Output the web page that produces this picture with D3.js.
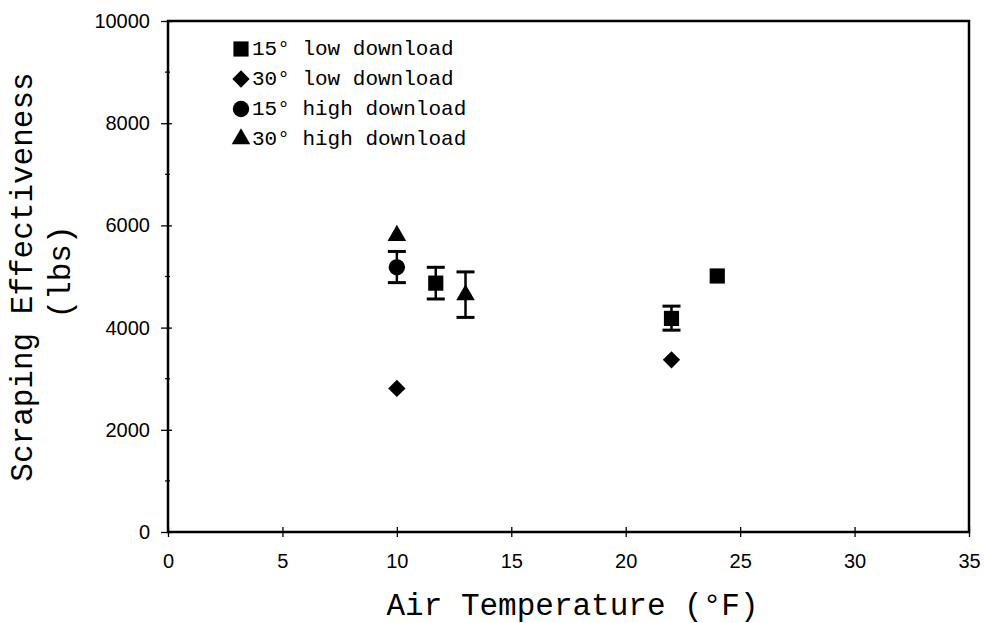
<!DOCTYPE html>
<html><head><meta charset="utf-8">
<script src="https://cdn.jsdelivr.net/npm/d3@7"></script>
<style>
body{margin:0;background:#fff;}
svg{display:block;}
</style></head>
<body>
<svg id="chart" width="985" height="623"></svg>
<script>
// ---- data ----
const seriesNames = ["15° low download", "30° low download", "15° high download", "30° high download"];
const seriesSymbols = ["square", "diamond", "circle", "triangle"];
// each point: [temp, value, errLow, errHigh] (errLow/errHigh null = no error bar)
const low15 = [[11.7, 4870, 4560, 5180], [22, 4180, 3950, 4420], [24, 5010, null, null]];
const low30 = [[10, 2810, null, null], [22, 3370, null, null]];
const high15 = [[10, 5180, 4880, 5490]];
const high30 = [[10, 5800, null, null], [13, 4640, 4200, 5090]];
const seriesData = [low15, low30, high15, high30];
const xTicks = [0, 5, 10, 15, 20, 25, 30, 35];
const yTicks = [0, 2000, 4000, 6000, 8000, 10000];
const yMinorTicks = [1000, 3000, 5000, 7000, 9000];

const svg = d3.select("#chart");
const L = 168, R = 969, T = 21, B = 532;
const x = d3.scaleLinear().domain([0, 35]).range([L, R]);
const y = d3.scaleLinear().domain([0, 10000]).range([B, T]);

const mono = "'Liberation Mono', 'Courier New', monospace";
const sans = "'Liberation Sans', Arial, sans-serif";

// frame
svg.append("rect").attr("x", L).attr("y", T).attr("width", R - L).attr("height", B - T)
  .attr("fill", "none").attr("stroke", "#000").attr("stroke-width", 2.5);

// y axis
const yAxis = d3.axisLeft(y).tickValues(yTicks).tickSize(7).tickPadding(10).tickFormat(d3.format("d"));
const gy = svg.append("g").attr("transform", `translate(${L},0)`).call(yAxis);
gy.select(".domain").remove();
gy.selectAll(".tick line").attr("x2", -7).attr("x1", 4).attr("stroke-width", 1.3);
gy.selectAll(".tick text").attr("font-family", sans).attr("font-size", 20).attr("fill", "#000").attr("x", -18);
svg.append("g").selectAll("line").data(yMinorTicks).join("line")
  .attr("x1", L - 3).attr("x2", L + 2).attr("y1", d => y(d)).attr("y2", d => y(d))
  .attr("stroke", "#000").attr("stroke-width", 1.2);

// x axis
const xAxis = d3.axisBottom(x).tickValues(xTicks).tickSize(5).tickPadding(17).tickFormat(d3.format("d"));
const gx = svg.append("g").attr("transform", `translate(0,${B})`).call(xAxis);
gx.select(".domain").remove();
gx.selectAll(".tick line").attr("y1", -5).attr("y2", 5).attr("stroke-width", 1.3);
gx.selectAll(".tick text").attr("font-family", sans).attr("font-size", 20).attr("fill", "#000");

// axis titles
svg.append("text").attr("x", (378 + 767) / 2).attr("y", 615).attr("text-anchor", "middle")
  .attr("font-family", mono).attr("font-size", 31).attr("fill", "#000").text("Air Temperature (°F)");
svg.append("text").attr("transform", "translate(32,277) rotate(-90)").attr("text-anchor", "middle")
  .attr("font-family", mono).attr("font-size", 31).attr("fill", "#000").text("Scraping Effectiveness");
svg.append("text").attr("transform", "translate(70,272) rotate(-90)").attr("text-anchor", "middle")
  .attr("font-family", mono).attr("font-size", 31).attr("fill", "#000").text("(lbs)");

// symbols
const symMap = {square: d3.symbolSquare, diamond: d3.symbolSquare, circle: d3.symbolCircle, triangle: d3.symbolTriangle};
const symSize = {square: 230, diamond: 150, circle: 210, triangle: 150};
const symRot = {square: 0, diamond: 45, circle: 0, triangle: 0};
function sym(name) { return d3.symbol().type(symMap[name]).size(symSize[name])(); }

const plot = svg.append("g");
seriesData.forEach((pts, i) => {
  const g = plot.append("g");
  const s = seriesSymbols[i];
  // error bars
  pts.filter(p => p[2] !== null).forEach(p => {
    const cx = x(p[0]);
    g.append("line").attr("x1", cx).attr("x2", cx).attr("y1", y(p[2])).attr("y2", y(p[3]))
      .attr("stroke", "#000").attr("stroke-width", 2.5);
    [p[2], p[3]].forEach(v => {
      g.append("line").attr("x1", cx - 9).attr("x2", cx + 9).attr("y1", y(v)).attr("y2", y(v))
        .attr("stroke", "#000").attr("stroke-width", 3);
    });
  });
  g.selectAll("path").data(pts).join("path")
    .attr("d", sym(s))
    .attr("transform", d => `translate(${x(d[0])},${y(d[1])}) rotate(${symRot[s]})`)
    .attr("fill", "#000");
});

// legend
const leg = svg.append("g");
seriesNames.forEach((n, i) => {
  const cy = 49 + i * 30;
  const s = seriesSymbols[i];
  leg.append("path").attr("d", sym(s))
    .attr("transform", `translate(241,${cy}) rotate(${symRot[s]})`)
    .attr("fill", "#000");
  leg.append("text").attr("x", 252).attr("y", cy + 6).attr("font-family", mono)
    .attr("font-size", 21).attr("fill", "#000").text(n);
});
</script>
</body></html>
